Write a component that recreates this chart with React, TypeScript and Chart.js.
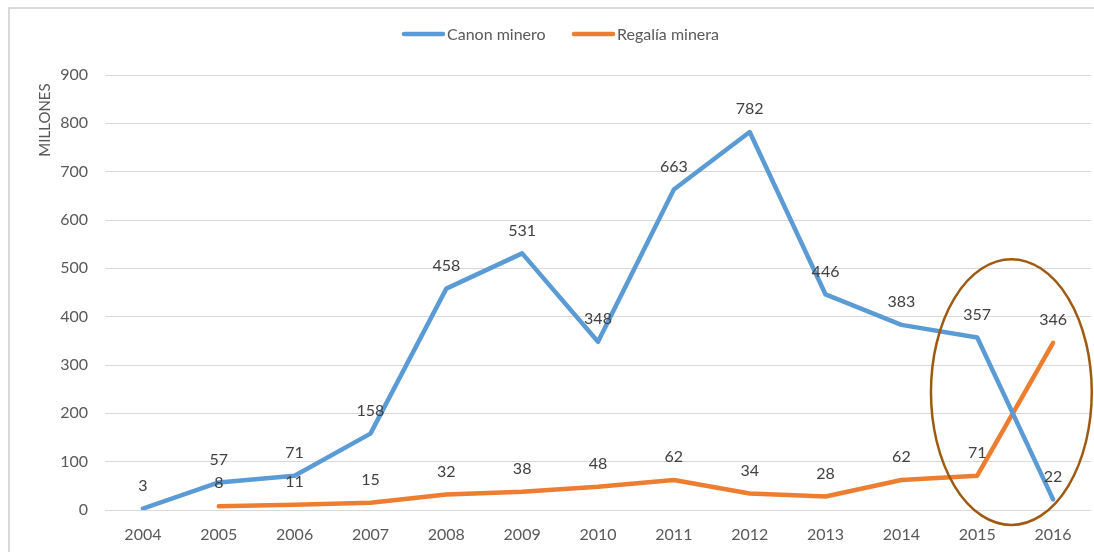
import React, { useEffect, useRef } from 'react';
import { Chart, registerables } from 'chart.js';

Chart.register(...registerables);

const years = ['2004', '2005', '2006', '2007', '2008', '2009', '2010', '2011', '2012', '2013', '2014', '2015', '2016'];
const canonMinero = [3, 57, 71, 158, 458, 531, 348, 663, 782, 446, 383, 357, 22];
const regaliaMinera: (number | null)[] = [null, 8, 11, 15, 32, 38, 48, 62, 34, 28, 62, 71, 346];
const seriesNames = ['Canon minero', 'Regalía minera'];
const seriesColors = ['#5B9BD5', '#ED7D31'];
const yAxisTitle = 'MILLONES';
const yMin = 0;
const yMax = 900;
const yMajorStep = 100;
const yMinorStep = 20;

// highlight ellipse around 2015-2016 (in data units)
const highlightCenterIndex = 11.45;
const highlightCenterValue = 244;
const highlightRadiusIndex = 1.06;
const highlightRadiusValue = 275;

const FONT = 'Lato, "Open Sans", sans-serif';

const overlayPlugin = {
  id: 'overlay',
  afterDatasetsDraw(chart: any) {
    const ctx = chart.ctx;
    const xs = chart.scales.x;
    const ys = chart.scales.y;
    // ellipse
    const cx = xs.getPixelForValue(highlightCenterIndex);
    const cy = ys.getPixelForValue(highlightCenterValue);
    const rx = Math.abs(xs.getPixelForValue(highlightCenterIndex + highlightRadiusIndex) - cx);
    const ry = Math.abs(ys.getPixelForValue(highlightCenterValue + highlightRadiusValue) - cy);
    ctx.save();
    ctx.beginPath();
    ctx.ellipse(cx, cy, rx, ry, 0, 0, Math.PI * 2);
    ctx.strokeStyle = '#9E5A12';
    ctx.lineWidth = 2.5;
    ctx.stroke();
    ctx.restore();

    // data labels
    ctx.save();
    ctx.font = `16px ${FONT}`;
    ctx.fillStyle = '#404040';
    ctx.textAlign = 'center';
    ctx.textBaseline = 'middle';
    chart.data.datasets.forEach((ds: any, i: number) => {
      const meta = chart.getDatasetMeta(i);
      meta.data.forEach((pt: any, j: number) => {
        const v = ds.data[j];
        if (v === null || v === undefined) return;
        ctx.fillText(String(v), pt.x, pt.y - 23);
      });
    });
    ctx.restore();
  },
  afterDraw(chart: any) {
    const ctx = chart.ctx;
    // y axis title
    ctx.save();
    ctx.translate(35, 111);
    ctx.rotate(-Math.PI / 2);
    ctx.font = `15px ${FONT}`;
    ctx.fillStyle = '#595959';
    ctx.textAlign = 'center';
    ctx.textBaseline = 'middle';
    ctx.fillText(yAxisTitle, 0, 0);
    ctx.restore();

    // legend
    const y = 25;
    const items = [
      { x: 392, label: seriesNames[0], color: seriesColors[0] },
      { x: 562, label: seriesNames[1], color: seriesColors[1] },
    ];
    ctx.save();
    ctx.font = `16px ${FONT}`;
    ctx.textBaseline = 'middle';
    ctx.textAlign = 'left';
    items.forEach((it) => {
      ctx.beginPath();
      ctx.moveTo(it.x + 2, y);
      ctx.lineTo(it.x + 41, y);
      ctx.strokeStyle = it.color;
      ctx.lineWidth = 4.5;
      ctx.lineCap = 'round';
      ctx.stroke();
      ctx.fillStyle = '#595959';
      ctx.fillText(it.label, it.x + 45, y + 1);
    });
    ctx.restore();
  },
};

export default function App() {
  const ref = useRef<HTMLCanvasElement>(null);

  useEffect(() => {
    if (!ref.current) return;
    const chart = new Chart(ref.current, {
      type: 'line',
      data: {
        labels: years,
        datasets: [
          {
            label: seriesNames[0],
            data: canonMinero,
            borderColor: seriesColors[0],
            backgroundColor: seriesColors[0],
            borderWidth: 4.5,
            pointRadius: 0,
            tension: 0,
            borderJoinStyle: 'round',
            borderCapStyle: 'round',
          },
          {
            label: seriesNames[1],
            data: regaliaMinera,
            borderColor: seriesColors[1],
            backgroundColor: seriesColors[1],
            borderWidth: 4.5,
            pointRadius: 0,
            tension: 0,
            borderJoinStyle: 'round',
            borderCapStyle: 'round',
          },
        ],
      },
      options: {
        animation: false,
        responsive: false,
        layout: { padding: { left: 0, right: 3, top: 66, bottom: 0 } },
        plugins: {
          legend: { display: false },
          tooltip: { enabled: false },
        },
        scales: {
          x: {
            offset: true,
            grid: { display: false, drawTicks: false },
            border: { display: false },
            ticks: {
              color: '#595959',
              font: { family: FONT, size: 16 },
              padding: 15,
              maxRotation: 0,
            },
            afterFit: (s: any) => {
              s.height = 42;
            },
          },
          y: {
            min: yMin,
            max: yMax,
            border: { display: false },
            grid: {
              drawTicks: false,
              color: (c: any) => (c.tick && c.tick.value % yMajorStep === 0 ? '#D9D9D9' : '#F2F2F2'),
              lineWidth: 1,
            },
            ticks: {
              stepSize: yMinorStep,
              autoSkip: false,
              color: '#595959',
              font: { family: FONT, size: 16 },
              padding: 17,
              callback: (v: any) => (Number(v) % yMajorStep === 0 ? String(v) : null),
            },
            afterFit: (s: any) => {
              s.width = 95;
            },
          },
        },
      },
      plugins: [overlayPlugin],
    } as any);
    return () => chart.destroy();
  }, []);

  return (
    <div
      style={{
        position: 'fixed',
        left: 0,
        top: 0,
        width: 1094,
        height: 552,
        overflow: 'hidden',
        background: '#fff',
      }}
    >
      <div
        style={{
          position: 'absolute',
          left: 8,
          top: 7,
          width: 1200,
          height: 700,
          borderLeft: '2px solid #D9D9D9',
          borderTop: '2px solid #D9D9D9',
        }}
      />
      <div style={{ position: 'absolute', left: 10, top: 9, width: 1084, height: 543 }}>
        <canvas ref={ref} width={1084} height={543} />
      </div>
    </div>
  );
}
